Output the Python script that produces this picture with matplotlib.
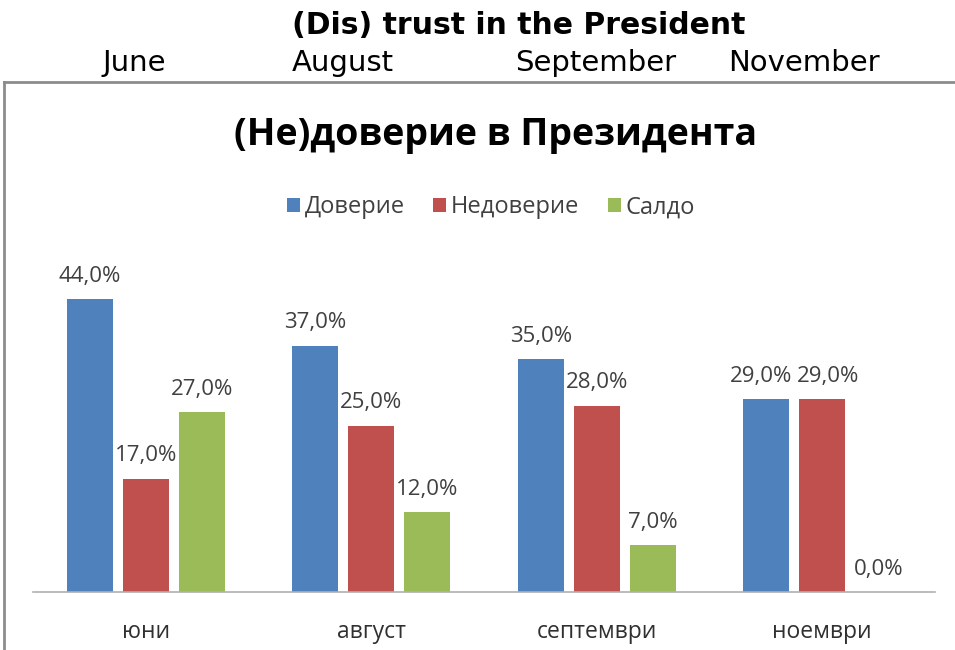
import matplotlib.pyplot as plt
from matplotlib.lines import Line2D
import numpy as np

categories = ["юни", "август", "септември", "ноември"]
months_en = ["June", "August", "September", "November"]
series_names = ["Доверие", "Недоверие", "Салдо"]
trust = [44.0, 37.0, 35.0, 29.0]
distrust = [17.0, 25.0, 28.0, 29.0]
balance = [27.0, 12.0, 7.0, 0.0]

colors = ["#4f81bd", "#c0504d", "#9bbb59"]
chart_font = ["Open Sans", "DejaVu Sans"]

fig = plt.figure(figsize=(9.55, 6.5), dpi=100)

# outer caption above the pasted chart
fig.text(0.543, 0.961, "(Dis) trust in the President", ha="center", va="center",
         fontsize=21.5, fontweight="bold", family="DejaVu Sans")
for x, m in zip([0.141, 0.359, 0.624, 0.842], months_en):
    fig.text(x, 0.903, m, ha="center", va="center", fontsize=21, family="DejaVu Sans")

# chart frame (only top and left edges visible)
fig.add_artist(Line2D([0.0042, 1.0], [0.8738, 0.8738], transform=fig.transFigure,
                      color="#8c8c8c", lw=2))
fig.add_artist(Line2D([0.0042, 0.0042], [0.0, 0.8738], transform=fig.transFigure,
                      color="#8c8c8c", lw=2))

fig.text(0.519, 0.792, "(Не)доверие в Президента", ha="center", va="center",
         fontsize=27, fontweight="bold", family=chart_font, color="#000000")

ax = fig.add_axes([0.0346, 0.0892, 0.9445, 0.5123])
x = np.arange(len(categories))
step = 0.248
width = 0.204
all_vals = [trust, distrust, balance]
for i, (vals, name, c) in enumerate(zip(all_vals, series_names, colors)):
    pos = x + (i - 1) * step
    ax.bar(pos, vals, width=width, color=c, label=name, zorder=2)
    for j, (px, v) in enumerate(zip(pos, vals)):
        # push apart labels of neighbouring bars with the same height
        dx = 0
        if i > 0 and abs(all_vals[i - 1][j] - v) < 3:
            dx = 4
        if i < 2 and abs(all_vals[i + 1][j] - v) < 3:
            dx = -4
        ax.annotate(f"{v:.1f}%".replace(".", ","), (px, v + 2.6), xytext=(dx, 0),
                    textcoords="offset points", ha="center", va="baseline",
                    fontsize=16, color="#404040", family=chart_font)

ax.set_xlim(-0.5, len(categories) - 0.5)
ax.set_ylim(0, 50)
ax.set_yticks([])
ax.set_xticks(x)
ax.set_xticklabels(categories, fontsize=16.5, family=chart_font, color="#303030")
ax.tick_params(axis="x", length=0, pad=20)
for s in ["top", "right", "left"]:
    ax.spines[s].set_visible(False)
ax.spines["bottom"].set_color("#b0b0b0")
ax.spines["bottom"].set_linewidth(1.2)

fig.legend(loc="center", bbox_to_anchor=(0.514, 0.681), ncol=3, frameon=False,
           prop={"family": chart_font, "size": 17}, handlelength=0.55, handleheight=0.55,
           handletextpad=0.2, columnspacing=1.2, labelcolor="#404040")

fig.savefig("out.png", dpi=100)
